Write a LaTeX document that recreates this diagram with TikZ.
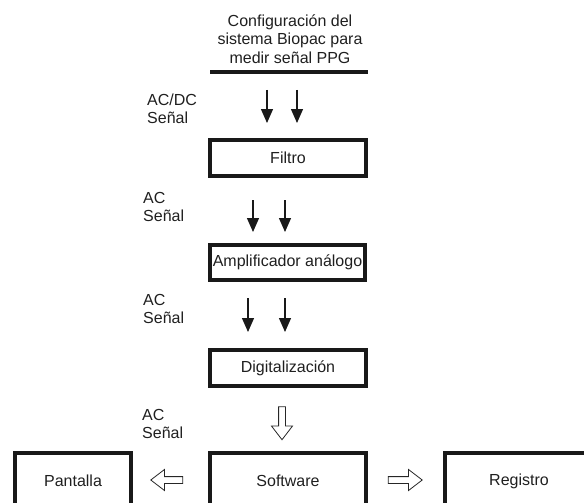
\documentclass[tikz,border=0pt]{standalone}
\usepackage{fontspec}
\setmainfont{Liberation Sans}
\usetikzlibrary{arrows.meta,shapes.arrows}
\begin{document}
\begin{tikzpicture}[x=1pt,y=-1pt,
  every node/.style={font=\fontsize{16}{18.5}\selectfont, text=black!88},
  blk/.style={draw=black!90, line width=4pt, rectangle, inner sep=0pt},
  thinarr/.style={line width=1.3pt, black!90, -{Triangle[width=12pt,length=14pt]}},
  hollow/.style={shape=single arrow, draw=black!85, line width=0.8pt, inner sep=3pt,
     single arrow tip angle=75, minimum width=16pt, minimum height=33pt, single arrow head indent=0pt},
  lbl/.style={anchor=west, align=left, inner sep=0pt}]
\useasboundingbox (0,0) rectangle (584,503);
\clip (0,0) rectangle (584,503);
% title
\node[align=center, inner sep=0pt] (title) at (290,39) {Configuración del\\sistema Biopac para\\medir señal PPG};
\coordinate (tl) at (210,72);
\coordinate (tr) at (368,72);
\draw[line width=3.2pt, black!90] (tl) -- (tr);
% boxes
\node[blk, minimum width=156pt, minimum height=36pt] (filtro) at (288,158) {Filtro};
\node[blk, minimum width=155pt, minimum height=35pt] (amp) at (287.5,262.5) {Amplificador análogo};
\node[blk, minimum width=156pt, minimum height=36pt] (dig) at (288,368) {Digitalización};
\node[blk, minimum width=156pt, minimum height=56pt] (soft) at (288,481) {Software};
\node[blk, minimum width=116pt, minimum height=56pt] (pant) at (73,481) {Pantalla};
\node[blk, minimum width=148pt, minimum height=56pt] (reg) at (519,481) {Registro};
% thin arrows
\coordinate (a1) at (267,90); \coordinate (a1e) at (267,123);
\coordinate (a2) at (297,90); \coordinate (a2e) at (297,123);
\draw[thinarr] (a1) -- (a1e);
\draw[thinarr] (a2) -- (a2e);
\coordinate (b1) at (253,200); \coordinate (b1e) at (253,232);
\coordinate (b2) at (285,200); \coordinate (b2e) at (285,232);
\draw[thinarr] (b1) -- (b1e);
\draw[thinarr] (b2) -- (b2e);
\coordinate (c1) at (248,298); \coordinate (c1e) at (248,332);
\coordinate (c2) at (285,298); \coordinate (c2e) at (285,332);
\draw[thinarr] (c1) -- (c1e);
\draw[thinarr] (c2) -- (c2e);
% hollow arrows
\node[hollow, rotate=-90] (hd) at (282,421) {};
\node[hollow, rotate=180, minimum height=32pt] (hl) at (169,480) {};
\node[hollow, minimum height=34pt] (hr) at (403,480) {};
% labels
\node[lbl] (l1) at (147,109) {AC/DC\\Señal};
\node[lbl] (l2) at (143,207) {AC\\Señal};
\node[lbl] (l3) at (143,309) {AC\\Señal};
\node[lbl] (l4) at (142,424) {AC\\Señal};
\end{tikzpicture}
\end{document}
